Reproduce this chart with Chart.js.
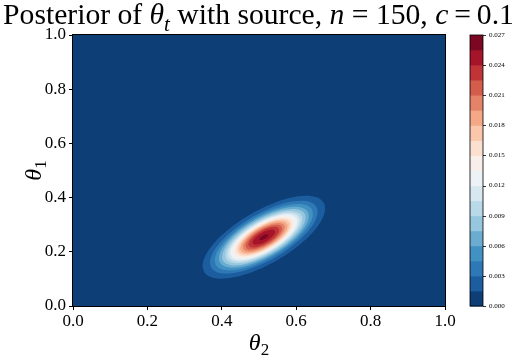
<!DOCTYPE html>
<html><head><meta charset="utf-8">
<script src="https://cdn.jsdelivr.net/npm/chart.js@4.4.0/dist/chart.umd.min.js"></script>
<style>html,body{margin:0;padding:0;background:#fff;}#wrap{width:518px;height:358px;}</style>
</head><body><div id="wrap"><canvas id="c" width="518" height="358"></canvas></div>
<script>
// ---- data ----
const titleParts = [["Posterior of ", "r"], ["θ", "i"], ["t", "isub"], [" with source, ", "r"], ["n", "i"], [" = 150, ", "r"], ["c", "i"], ["\u2009=\u20090.1", "r"]];
const xTicks = [0.0, 0.2, 0.4, 0.6, 0.8, 1.0];
const yTicks = [0.0, 0.2, 0.4, 0.6, 0.8, 1.0];
const levelBounds = [0.0000, 0.0015, 0.0030, 0.0045, 0.0060, 0.0075, 0.0090, 0.0105, 0.0120, 0.0135,
                     0.0150, 0.0165, 0.0180, 0.0195, 0.0210, 0.0225, 0.0240, 0.0255, 0.0270];
const cbTicks = [0.000, 0.003, 0.006, 0.009, 0.012, 0.015, 0.018, 0.021, 0.024, 0.027];
const peakCenter = [0.513, 0.254];          // (theta2, theta1) of the density peak
const contourAngleDeg = 42;                  // tilt of the contour ellipses (data space)
// semi-axes of the filled contour at levelBounds[1..17]
const contourMajor = [0.207, 0.182, 0.166, 0.152, 0.141, 0.130, 0.121, 0.113, 0.105, 0.096, 0.088, 0.080, 0.071, 0.062, 0.052, 0.038, 0.0145];
const contourMinor = [0.088, 0.077, 0.070, 0.065, 0.060, 0.055, 0.051, 0.048, 0.044, 0.041, 0.037, 0.034, 0.030, 0.026, 0.022, 0.016, 0.0062];

// ---- style ----
const SERIF = '"Liberation Serif", "Times New Roman", serif';
const RdBu = ["#053061","#2166ac","#4393c3","#92c5de","#d1e5f0","#f7f7f7","#fddbc7","#f4a582","#d6604d","#b2182b","#67001f"];
function hex2rgb(h){return [1,3,5].map(i=>parseInt(h.substr(i,2),16));}
function cmap(t){
  t=Math.max(0,Math.min(1,t));
  const n=RdBu.length-1, p=t*n, i=Math.min(n-1,Math.floor(p)), f=p-i;
  const a=hex2rgb(RdBu[i]), b=hex2rgb(RdBu[i+1]);
  return `rgb(${a.map((v,j)=>Math.round(v+(b[j]-v)*f)).join(',')})`;
}
const vmax = levelBounds[levelBounds.length-1];
function bandColor(k){ return cmap(((levelBounds[k]+levelBounds[k+1])/2)/vmax); }

function richFonts(fs){return {r:`${fs}px ${SERIF}`, i:`italic ${fs}px ${SERIF}`, isub:`italic ${Math.round(fs*0.7)}px ${SERIF}`, sub:`${Math.round(fs*0.7)}px ${SERIF}`};}
function richWidth(ctx, parts, fs){
  const fonts=richFonts(fs); let w=0;
  parts.forEach(([t,s])=>{ctx.font=fonts[s]; w+=ctx.measureText(t).width;});
  return w;
}
function drawRich(ctx, parts, x, y, fs, align){
  const fonts = richFonts(fs);
  const w = richWidth(ctx, parts, fs);
  let cx = align==='center' ? x-w/2 : x;
  ctx.textBaseline='alphabetic'; ctx.textAlign='left';
  parts.forEach(([t,s])=>{ctx.font=fonts[s]; const dy=(s==='isub'||s==='sub')?fs*0.22:0; ctx.fillText(t,cx,y+dy); cx+=ctx.measureText(t).width;});
}

const contourPlugin = {
  id:'contours',
  beforeDatasetsDraw(chart){
    const {ctx, chartArea:a, scales:{x,y}} = chart;
    ctx.save();
    ctx.beginPath(); ctx.rect(a.left,a.top,a.right-a.left,a.bottom-a.top); ctx.clip();
    ctx.fillStyle = bandColor(0);
    ctx.fillRect(a.left,a.top,a.right-a.left,a.bottom-a.top);
    const sx = x.getPixelForValue(1)-x.getPixelForValue(0);
    const sy = y.getPixelForValue(1)-y.getPixelForValue(0);
    const cx = x.getPixelForValue(peakCenter[0]), cy = y.getPixelForValue(peakCenter[1]);
    const th = contourAngleDeg*Math.PI/180;
    for(let k=0;k<contourMajor.length;k++){
      ctx.save(); ctx.translate(cx,cy); ctx.scale(sx,sy); ctx.rotate(th);
      ctx.beginPath(); ctx.ellipse(0,0,contourMajor[k],contourMinor[k],0,0,Math.PI*2);
      ctx.restore();
      ctx.fillStyle = bandColor(k+1); ctx.fill();
    }
    ctx.restore();
  },
  afterDraw(chart){
    const {ctx, chartArea:a, scales:{cb}} = chart;
    ctx.save();
    ctx.strokeStyle='#000'; ctx.lineWidth=1;
    ctx.strokeRect(Math.round(a.left)-0.5, Math.round(a.top)-0.5, Math.round(a.right-a.left)+1, Math.round(a.bottom-a.top)+1);
    // colorbar
    const x0=470, x1=483;
    for(let k=0;k<levelBounds.length-1;k++){
      const yA=cb.getPixelForValue(levelBounds[k]), yB=cb.getPixelForValue(levelBounds[k+1]);
      ctx.fillStyle=bandColor(k); ctx.fillRect(x0, yB, x1-x0, yA-yB+0.5);
    }
    ctx.strokeStyle='#000'; ctx.lineWidth=0.8;
    ctx.strokeRect(x0, cb.top, x1-x0, cb.bottom-cb.top);
    cbTicks.forEach(v=>{const yy=Math.round(cb.getPixelForValue(v))+0.5; ctx.beginPath(); ctx.moveTo(x1,yy); ctx.lineTo(x1+3,yy); ctx.stroke();});
    // title, fitted to the width it has in the picture
    ctx.fillStyle='#000';
    const tw = richWidth(ctx, titleParts, 30);
    const tfs = Math.min(31, 30*511/tw);
    drawRich(ctx, titleParts, 258.5, 24, tfs, 'center');
    // axis labels
    drawRich(ctx, [["θ","i"],["2","sub"]], (a.left+a.right)/2, 350, 24, 'center');
    ctx.translate(41,(a.top+a.bottom)/2); ctx.rotate(-Math.PI/2);
    drawRich(ctx, [["θ","i"],["1","sub"]], 0, 0, 24, 'center');
    ctx.restore();
  }
};

const tickFont = {family:SERIF, size:17};
new Chart(document.getElementById('c'), {
  type:'scatter',
  data:{datasets:[]},
  options:{
    responsive:false, animation:false, devicePixelRatio:1,
    layout:{padding:{top:35,left:0,right:0,bottom:0}},
    plugins:{legend:{display:false}, tooltip:{enabled:false}, title:{display:false}},
    scales:{
      x:{type:'linear', min:0, max:1,
        afterBuildTicks:s=>{s.ticks=xTicks.map(v=>({value:v}));},
        afterFit:s=>{s.height=52;},
        ticks:{font:tickFont, color:'#000', padding:1, maxRotation:0, callback:v=>v.toFixed(1)},
        grid:{drawOnChartArea:false, drawTicks:true, tickLength:4, color:'#000'},
        border:{display:true, color:'#000'}},
      y:{type:'linear', min:0, max:1, position:'left',
        afterBuildTicks:s=>{s.ticks=yTicks.map(v=>({value:v}));},
        afterFit:s=>{s.width=73;},
        ticks:{font:tickFont, color:'#000', padding:3, callback:v=>v.toFixed(1)},
        grid:{drawOnChartArea:false, drawTicks:true, tickLength:4, color:'#000'},
        border:{display:true, color:'#000'}},
      cb:{type:'linear', min:0, max:vmax, position:'right',
        afterBuildTicks:s=>{s.ticks=cbTicks.map(v=>({value:v}));},
        afterFit:s=>{s.width=73;},
        ticks:{font:{family:SERIF,size:7}, color:'#000', padding:0, callback:v=>v.toFixed(3)},
        grid:{display:false, drawTicks:true, tickLength:44},
        border:{display:false}}
    }
  },
  plugins:[contourPlugin]
});
</script></body></html>
